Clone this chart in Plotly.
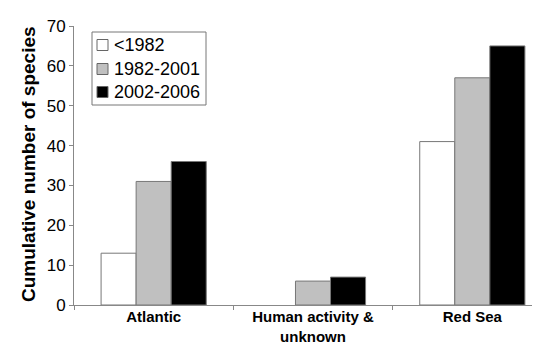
import plotly.graph_objects as go

categories = ["Atlantic", "Human activity &<br>unknown", "Red Sea"]
tick_labels = ["<b>Atlantic</b>", "<b>Human activity &<br>unknown</b>", "<b>Red Sea</b>"]
series_names = ["<1982", "1982-2001", "2002-2006"]
before_1982 = [13, 0, 41]
y1982_2001 = [31, 6, 57]
y2002_2006 = [36, 7, 65]
y_ticks = [0, 10, 20, 30, 40, 50, 60, 70]

fills = ["#ffffff", "#c0c0c0", "#000000"]
values = [before_1982, y1982_2001, y2002_2006]

W, H = 540, 343
L, R, T, B = 66, 0, 18, 46
PW, PH = W - L - R, H - T - B

def px(x):
    return (x - L) / PW

def py(y):
    return (H - B - y) / PH

fig = go.Figure()
for name, vals, col in zip(series_names, values, fills):
    fig.add_trace(go.Bar(
        x=categories, y=vals, name=name, showlegend=False,
        marker=dict(color=col, line=dict(color="#777777",
                                         width=[0 if v == 0 else 1 for v in vals])),
    ))

# Legend drawn as box + swatches + real text
shapes = [dict(type="rect", xref="paper", yref="paper",
               x0=px(84), x1=px(198), y0=py(24), y1=py(97),
               line=dict(color="#777777", width=1), fillcolor="white", layer="above")]
annotations = []
legend_rows = [37, 61, 84]
for name, col, yc in zip(series_names, fills, legend_rows):
    shapes.append(dict(type="rect", xref="paper", yref="paper",
                       x0=px(89), x1=px(100), y0=py(yc - 5.5), y1=py(yc + 5.5),
                       line=dict(color="#666666", width=1), fillcolor=col, layer="above"))
    annotations.append(dict(xref="paper", yref="paper", x=px(104), y=py(yc),
                            xanchor="left", yanchor="middle", showarrow=False,
                            text=name.replace("<", "&lt;"), font=dict(size=18)))

annotations.append(dict(xref="paper", yref="paper", x=px(20), y=py(156),
                        xanchor="center", yanchor="middle", showarrow=False,
                        textangle=-90, text="<b>Cumulative number of species</b>",
                        font=dict(size=19)))

fig.update_layout(
    width=W, height=H,
    margin=dict(l=L, r=R, t=T, b=B),
    paper_bgcolor="white", plot_bgcolor="white",
    barmode="group", bargap=0.34, bargroupgap=0,
    font=dict(family="Arial, Liberation Sans, sans-serif", color="#000000"),
    showlegend=False,
    shapes=shapes,
    annotations=annotations,
    xaxis=dict(
        range=[-0.5, 2.475],
        tickvals=categories, ticktext=tick_labels,
        showline=True, linecolor="#888888", linewidth=1,
        ticks="outside", tickson="boundaries", ticklen=4, tickcolor="#888888",
        tickfont=dict(size=15), ticklabelstandoff=-2,
        showgrid=False,
    ),
    yaxis=dict(
        range=[0, 70], tickvals=y_ticks,
        showline=True, linecolor="#888888", linewidth=1,
        ticks="outside", ticklen=4, tickcolor="#888888",
        tickfont=dict(size=17),
        showgrid=False, zeroline=False,
    ),
)

fig.write_html("out.html")
